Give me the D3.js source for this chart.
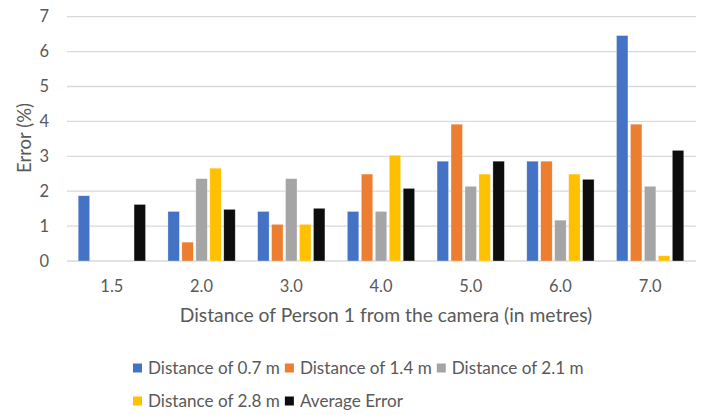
<!DOCTYPE html>
<html>
<head>
<meta charset="utf-8">
<script src="https://cdn.jsdelivr.net/npm/d3@7"></script>
<style>
  body { margin: 0; background: #fff; }
  text { font-family: Lato, "Open Sans", sans-serif; fill: #595959; }
</style>
</head>
<body>
<div class="chart"></div>
<script>
  'use strict';

  var categories = ['1.5', '2.0', '3.0', '4.0', '5.0', '6.0', '7.0'];
  var seriesNames = ['Distance of 0.7 m', 'Distance of 1.4 m', 'Distance of 2.1 m', 'Distance of 2.8 m', 'Average Error'];
  var seriesColors = ['#4472C4', '#ED7D31', '#A5A5A5', '#FFC000', '#0D0D0D'];
  var dist07 = [1.87, 1.42, 1.42, 1.42, 2.86, 2.86, 6.46];
  var dist14 = [0, 0.54, 1.05, 2.49, 3.92, 2.86, 3.92];
  var dist21 = [0, 2.36, 2.36, 1.42, 2.14, 1.17, 2.14];
  var dist28 = [0, 2.66, 1.05, 3.03, 2.49, 2.49, 0.15];
  var avgError = [1.62, 1.48, 1.51, 2.08, 2.86, 2.34, 3.17];
  var yTicks = [0, 1, 2, 3, 4, 5, 6, 7];

  var seriesValues = [dist07, dist14, dist21, dist28, avgError];

  var w = 704;
  var h = 415;
  var plotLeft = 67, plotRight = 695, plotTop = 16.7, plotBottom = 261;

  var svg = d3.select('.chart').append('svg').attr('width', w).attr('height', h);

  // font size that makes a string about as wide as in the picture
  function fitSize(str, width) {
    var t = svg.append('text').style('font-size', '20px').text(str);
    var len = t.node().getComputedTextLength();
    t.remove();
    return (20 * width / len).toFixed(2) + 'px';
  }
  var tickSize = fitSize('1.5', 23);
  var titleSize = fitSize('Distance of Person 1 from the camera (in metres)', 413);
  var yTitleSize = fitSize('Error (%)', 70);
  var legendSize = fitSize('Distance of 0.7 m', 132);

  var x0 = d3.scaleBand().domain(categories).range([plotLeft, plotRight]).paddingInner(0.25).paddingOuter(0.125);
  var x1 = d3.scaleBand().domain(d3.range(seriesNames.length)).range([0, x0.bandwidth()]).paddingInner(0.18);
  var y = d3.scaleLinear().domain([0, 7]).range([plotBottom, plotTop]);

  // gridlines
  svg.append('g').selectAll('line').data(yTicks).enter().append('line')
    .attr('x1', plotLeft).attr('x2', plotRight + 1)
    .attr('y1', function(d) { return y(d); }).attr('y2', function(d) { return y(d); })
    .style('stroke', '#d9d9d9').style('stroke-width', 1.3);

  // y labels
  svg.append('g').selectAll('text').data(yTicks).enter().append('text')
    .attr('x', 49).attr('y', function(d) { return y(d); })
    .attr('dy', '0.35em').attr('text-anchor', 'end')
    .style('font-size', tickSize).text(function(d) { return d; });

  // bars
  var groups = svg.append('g').selectAll('g').data(categories).enter().append('g')
    .attr('transform', function(d) { return 'translate(' + x0(d) + ',0)'; });

  groups.selectAll('rect').data(function(d, i) {
    return seriesValues.map(function(vals, s) { return { s: s, v: vals[i] }; });
  }).enter().append('rect')
    .attr('x', function(d) { return x1(d.s); })
    .attr('width', x1.bandwidth())
    .attr('y', function(d) { return y(d.v); })
    .attr('height', function(d) { return plotBottom - y(d.v); })
    .style('fill', function(d) { return seriesColors[d.s]; })
    .style('stroke', '#ffffff').style('stroke-width', 0.6).style('stroke-opacity', 0.5);

  // x labels
  svg.append('g').selectAll('text').data(categories).enter().append('text')
    .attr('x', function(d) { return x0(d) + x0.bandwidth() / 2; })
    .attr('y', 286).attr('dy', '0.35em').attr('text-anchor', 'middle')
    .style('font-size', tickSize).text(function(d) { return d; });

  svg.append('text').attr('x', 386).attr('y', 315).attr('dy', '0.35em')
    .attr('text-anchor', 'middle').style('font-size', titleSize)
    .text('Distance of Person 1 from the camera (in metres)');

  svg.append('text').attr('transform', 'translate(24,138) rotate(-90)')
    .attr('dy', '0.35em').attr('text-anchor', 'middle').style('font-size', yTitleSize)
    .text('Error (%)');

  // legend, two rows
  var rows = [[0, 1, 2], [3, 4]];
  var rowY = [368, 401];
  rows.forEach(function(row, r) {
    var cx = 133;
    row.forEach(function(s) {
      svg.append('rect').attr('x', cx).attr('y', rowY[r] - 4.5).attr('width', 9).attr('height', 9)
        .style('fill', seriesColors[s]);
      var t = svg.append('text').attr('x', cx + 15).attr('y', rowY[r]).attr('dy', '0.35em')
        .style('font-size', legendSize).text(seriesNames[s]);
      cx += 15 + t.node().getComputedTextLength() + 5;
    });
  });
</script>
</body>
</html>
